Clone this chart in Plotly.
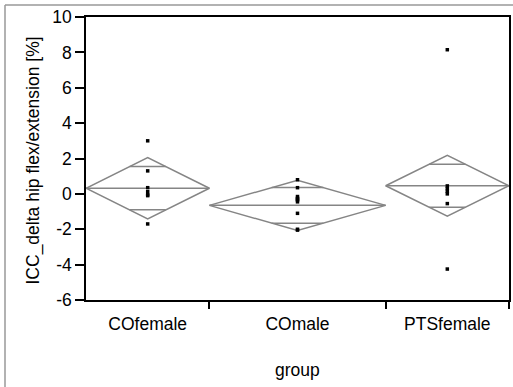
import math
import plotly.graph_objects as go

# ---- data ----
groups = ["COfemale", "COmale", "PTSfemale"]
group_n = [7, 10, 7]
values_cofemale = [3.0, 1.3, 0.35, 0.12, -0.05, -0.1, -1.7]
values_comale = [0.8, 0.35, -0.15, -0.25, -0.3, -0.35, -0.45, -1.1, -2.0, -2.05]
values_ptsfemale = [8.15, 0.45, 0.3, 0.15, 0.0, -0.55, -4.25]
group_means = [0.32, -0.65, 0.46]
group_ci_half = [1.73, 1.42, 1.72]
y_ticks = [-6, -4, -2, 0, 2, 4, 6, 8, 10]
y_ticktext = ["-6", "-4", "-2", "0", "2", "4", "6", "8", "10"]

values = [values_cofemale, values_comale, values_ptsfemale]

# ---- layout constants ----
W, H = 513, 387
ML, MR, MT, MB = 86, 4, 17, 87
FONT = "Liberation Sans, Arial, Helvetica, sans-serif"
FS = 17.5
GRAY = "#858585"

# category spans proportional to group size
edges = [0]
for n in group_n:
    edges.append(edges[-1] + n)
centers = [(edges[i] + edges[i + 1]) / 2 for i in range(len(groups))]

fig = go.Figure()

for i, g in enumerate(groups):
    x0, x1, xc = edges[i], edges[i + 1], centers[i]
    m, h = group_means[i], group_ci_half[i]
    # diamond outline
    fig.add_trace(go.Scatter(
        x=[x0, xc, x1, xc, x0], y=[m, m + h, m, m - h, m],
        mode="lines", line=dict(color=GRAY, width=1.5),
        hoverinfo="skip", showlegend=False))
    # mean line
    fig.add_trace(go.Scatter(
        x=[x0, x1], y=[m, m], mode="lines",
        line=dict(color=GRAY, width=1.5), hoverinfo="skip", showlegend=False))
    # overlap marks
    off = h / math.sqrt(2)
    frac = 1 - off / h
    half = (x1 - x0) / 2 * frac
    for yy in (m + off, m - off):
        fig.add_trace(go.Scatter(
            x=[xc - half, xc + half], y=[yy, yy], mode="lines",
            line=dict(color=GRAY, width=1.5), hoverinfo="skip", showlegend=False))
    # points
    fig.add_trace(go.Scatter(
        x=[xc] * len(values[i]), y=values[i], mode="markers",
        marker=dict(symbol="square", size=3.5, color="black"),
        name=g, showlegend=False))

pw = W - ML - MR
ph = H - MT - MB


def px_x(p):
    return (p - ML) / pw


def px_y(p):
    return (H - MB - p) / ph


# outer frame (top and left edges)
fig.add_shape(type="line", xref="paper", yref="paper", x0=px_x(5), x1=px_x(W + 2),
              y0=px_y(5), y1=px_y(5), line=dict(color="#999999", width=1.5))
fig.add_shape(type="line", xref="paper", yref="paper", x0=px_x(5), x1=px_x(5),
              y0=px_y(5), y1=px_y(H + 2), line=dict(color="#999999", width=1.5))

# axis titles
fig.add_annotation(text="ICC_delta hip flex/extension [%]", xref="paper", yref="paper",
                   x=px_x(33), y=px_y(160.5), textangle=-90, showarrow=False,
                   xanchor="center", yanchor="middle", font=dict(size=FS))
fig.add_annotation(text="group", xref="paper", yref="paper",
                   x=px_x(297), y=px_y(370), showarrow=False,
                   xanchor="center", yanchor="middle", font=dict(size=FS))

fig.update_layout(
    width=W, height=H,
    margin=dict(l=ML, r=MR, t=MT, b=MB),
    paper_bgcolor="white", plot_bgcolor="white",
    font=dict(family=FONT, size=FS, color="black"),
    xaxis=dict(
        range=[edges[0], edges[-1]], automargin=False,
        tickmode="array", tickvals=centers, ticktext=groups,
        ticks="", showgrid=False, zeroline=False,
        showline=True, linecolor="black", linewidth=1.5, mirror=True,
        tickfont=dict(size=FS), ticklabelstandoff=7,
        minor=dict(tickmode="array", tickvals=edges[1:], ticks="outside",
                   ticklen=7, tickcolor="black", tickwidth=1.5, showgrid=False),
    ),
    yaxis=dict(
        range=[-6, 10], automargin=False,
        tickmode="array", tickvals=y_ticks, ticktext=y_ticktext,
        ticks="outside", ticklen=9, tickcolor="black", tickwidth=1.5,
        showgrid=False, zeroline=False,
        showline=True, linecolor="black", linewidth=1.5, mirror=True,
        tickfont=dict(size=FS),
    ),
)

fig.write_html(
    "out.html",
    config={"displayModeBar": False},
    post_script="document.body.style.margin='0';document.body.style.overflow='hidden';",
)
